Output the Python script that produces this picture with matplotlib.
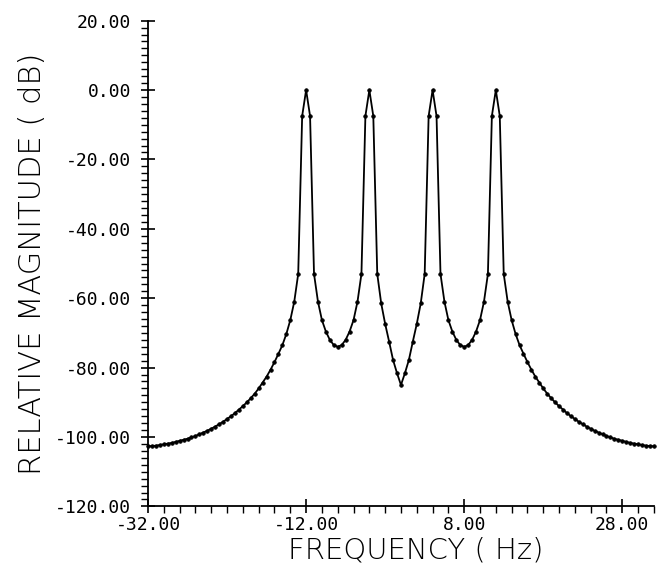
import numpy as np
import matplotlib
matplotlib.use("Agg")
import matplotlib.pyplot as plt
from matplotlib.ticker import MultipleLocator, FormatStrFormatter

plt.rcParams['axes.unicode_minus'] = False

# Frequency grid (Hz), 0.5 Hz steps
freq = np.arange(-32.0, 32.5, 0.5)

# Relative magnitude (dB)
mag_left = [
    -102.7, -102.6, -102.5, -102.3, -102.1, -101.9, -101.7, -101.4,
    -101.1, -100.8, -100.5, -100.1, -99.7, -99.2, -98.7, -98.2,
    -97.6, -97.0, -96.3, -95.6, -94.8, -94.0, -93.1, -92.1,
    -91.1, -90.0, -88.8, -87.5, -86.0, -84.3, -82.6, -80.6,
    -78.4, -76.0, -73.5, -70.3, -66.3, -61.0, -53.0, -7.5,
    0.0, -7.5, -53.0, -61.0, -66.3, -69.6, -72.0, -73.5,
    -74.0, -73.5, -72.0, -69.6, -66.3, -61.0, -53.0, -7.5,
    0.0, -7.5, -53.0, -61.5, -67.4, -72.5, -77.8, -81.6,
]
mag_center = [-85.0]
mag_right = [
    -81.6, -77.8, -72.5, -67.4, -61.5, -53.0, -7.5, 0.0,
    -7.5, -53.0, -61.0, -66.3, -69.6, -72.0, -73.5, -74.0,
    -73.5, -72.0, -69.6, -66.3, -61.0, -53.0, -7.5, 0.0,
    -7.5, -53.0, -61.0, -66.3, -70.3, -73.5, -76.0, -78.4,
    -80.6, -82.6, -84.3, -86.0, -87.5, -88.8, -90.0, -91.1,
    -92.1, -93.1, -94.0, -94.8, -95.6, -96.3, -97.0, -97.6,
    -98.2, -98.7, -99.2, -99.7, -100.1, -100.5, -100.8, -101.1,
    -101.4, -101.7, -101.9, -102.1, -102.3, -102.5, -102.6, -102.7,
]
mag = np.array(mag_left + mag_center + mag_right)

xticks = [-32, -12, 8, 28]

fig = plt.figure(figsize=(6.57, 5.65), dpi=100)
ax = fig.add_axes([0.2253, 0.1037, 0.770, 0.8598])

ax.plot(freq, mag, color='black', lw=1.3, marker='o', ms=2.6,
        markerfacecolor='black', markeredgewidth=0.5, clip_on=False)

ax.set_xlim(-32, 32)
ax.set_ylim(-120, 20)
ax.set_xticks(xticks)
ax.xaxis.set_minor_locator(MultipleLocator(2))
ax.yaxis.set_major_locator(MultipleLocator(20))
ax.yaxis.set_minor_locator(MultipleLocator(2))
ax.xaxis.set_major_formatter(FormatStrFormatter('%.2f'))
ax.yaxis.set_major_formatter(FormatStrFormatter('%.2f'))

for s in ['top', 'right']:
    ax.spines[s].set_visible(False)
for s in ['left', 'bottom']:
    ax.spines[s].set_linewidth(1.3)

ax.tick_params(which='major', direction='inout', length=10, width=1.2)
ax.tick_params(axis='y', which='major', pad=7)
ax.tick_params(axis='x', which='major', pad=2)
ax.tick_params(which='minor', direction='out', length=5, width=1.0)
for lbl in ax.get_xticklabels() + ax.get_yticklabels():
    lbl.set_fontfamily('DejaVu Sans Mono')
    lbl.set_fontsize(13)

ax.set_xlabel('FREQUENCY ( Hz)', family='DejaVu Sans', fontsize=21,
              fontweight='light', labelpad=0)
ax.xaxis.set_label_coords(0.53, -0.062)
ax.set_ylabel('RELATIVE MAGNITUDE ( dB)', family='DejaVu Sans', fontsize=22,
              fontweight='light', labelpad=6)

fig.savefig('out.png', dpi=100)
